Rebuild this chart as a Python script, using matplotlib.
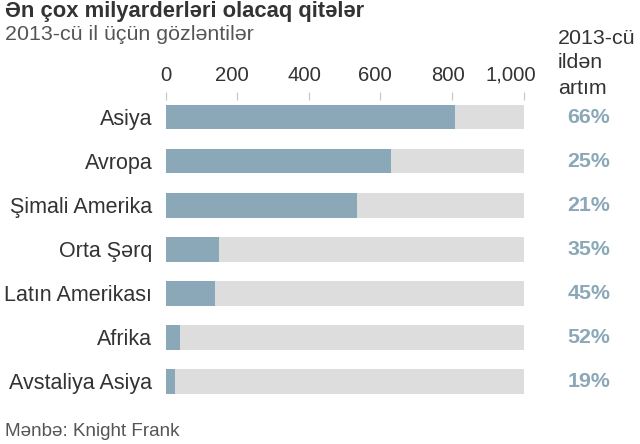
import matplotlib
matplotlib.use("Agg")
import matplotlib.pyplot as plt
from matplotlib.transforms import ScaledTranslation, blended_transform_factory

plt.rcParams["font.family"] = ["Liberation Sans", "DejaVu Sans"]

# data
regions = ["Asiya", "Avropa", "Şimali Amerika", "Orta Şərq", "Latın Amerikası", "Afrika", "Avstaliya Asiya"]
billionaires = [810, 629, 534, 149, 139, 40, 27]
growth = ["66%", "25%", "21%", "35%", "45%", "52%", "19%"]
scale_max = 1000
ticks = [0, 200, 400, 600, 800, 1000]
tick_labels = ["0", "200", "400", "600", "800", "1,000"]

FG = "#8aa8b8"
BG = "#dddddd"
TXT = "#333333"
SUB = "#555555"
FS = 15.4

fig = plt.figure(figsize=(6.4, 4.44), dpi=100)
ax = fig.add_axes([165.5 / 640, 1 - 403.5 / 444, (523.5 - 165.5) / 640, (403.5 - 100) / 444])

ypos = list(range(len(regions)))
ax.barh(ypos, [scale_max] * len(regions), height=0.56, color=BG, zorder=1)
ax.barh(ypos, billionaires, height=0.56, color=FG, zorder=2)

ax.set_xlim(0, scale_max)
ax.set_ylim(len(regions) - 0.5, -0.386)
for s in ax.spines.values():
    s.set_visible(False)

ax.xaxis.tick_top()
ax.set_xticks(ticks)
ax.set_xticklabels(tick_labels)
ax.tick_params(axis="x", length=5.5, width=0.8, color="#c4c4c4", pad=5.5,
               labelsize=14.6, labelcolor=TXT)
# the source nudges the tick labels a little to the left of the ticks
nudge_px = [0, -5, -4, -5, -4, -13]
for lab, dx in zip(ax.get_xticklabels(), nudge_px):
    lab.set_transform(lab.get_transform() + ScaledTranslation(dx / 100, 0, fig.dpi_scale_trans))

ax.set_yticks(ypos)
ax.set_yticklabels(regions)
ax.tick_params(axis="y", length=0, pad=9.5, labelsize=15.5, labelcolor=TXT)

# growth column on the right
col = blended_transform_factory(fig.transFigure, ax.transData)
for y, g in zip(ypos, growth):
    ax.text(589 / 640, y, g, transform=col, ha="center", va="center",
            fontsize=FS, fontweight="bold", color=FG)

for yy, line in zip([38, 63, 88], ["2013-cü", "ildən", "artım"]):
    fig.text(558 / 640, 1 - yy / 444, line, ha="left", va="center", fontsize=FS, color=TXT)

fig.text(5 / 640, 1 - 12 / 444, "Ən çox milyarderləri olacaq qitələr", ha="left", va="center",
         fontsize=15.8, fontweight="bold", color=TXT)
fig.text(5 / 640, 1 - 35 / 444, "2013-cü il üçün gözləntilər", ha="left", va="center",
         fontsize=FS, color=SUB)
fig.text(5 / 640, 1 - 431 / 444, "Mənbə: Knight Frank", ha="left", va="center",
         fontsize=13.6, color=SUB)

fig.savefig("out.png", dpi=100)
